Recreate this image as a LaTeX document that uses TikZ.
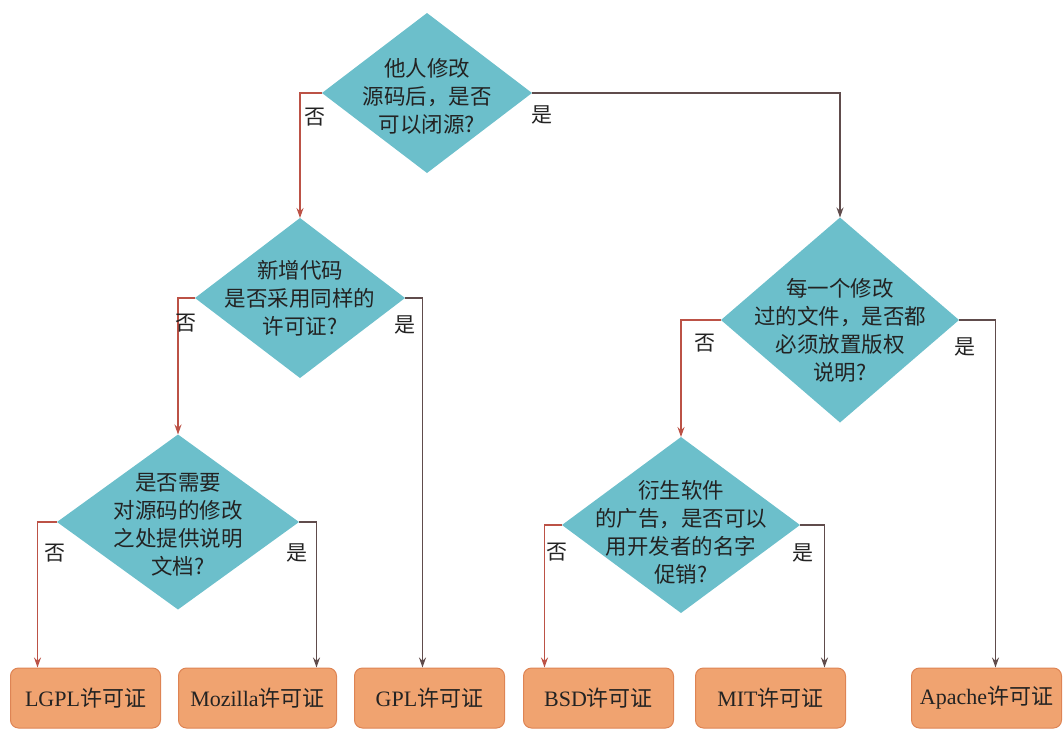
\documentclass[tikz,border=0pt]{standalone}
\usepackage{fontspec}
\setmainfont{Liberation Serif}
\newfontfamily\cjk{Noto Sans CJK SC}
\usepackage{xcolor}
\usetikzlibrary{shapes, arrows.meta, positioning}
\definecolor{qfill}{RGB}{108,191,203}
\definecolor{lfill}{RGB}{240,163,112}
\definecolor{ldraw}{RGB}{222,132,84}
\definecolor{noline}{RGB}{188,82,70}
\definecolor{yesline}{RGB}{96,76,76}
\definecolor{txt}{RGB}{35,35,35}

\begin{document}
\begin{tikzpicture}[x=1pt,y=-1pt,>={Stealth[length=10pt,width=7pt]},
        question/.style={diamond,fill=qfill,inner sep=0pt,outer sep=0pt},
        qtext/.style={align=center,text=txt,font=\cjk\fontsize{21.5}{28}\selectfont},
        license/.style={rectangle,rounded corners=8pt,fill=lfill,draw=ldraw,line width=1pt,
            minimum width=150pt,minimum height=60pt,text=txt,font=\fontsize{22}{24}\selectfont},
        answer/.style={text=txt,font=\cjk\fontsize{21}{24}\selectfont},
        nopath/.style={->,draw=noline,line width=1.2pt},
        yespath/.style={->,draw=yesline,line width=1.2pt}]

    \useasboundingbox (0,0) rectangle (1063,729);

    \node[question,minimum width=210pt,minimum height=160pt,
        label={[qtext,yshift=-3pt]center:{他人修改\\源码后，是否\\可以闭源?}}] (q1) at (427,93) {};
    \node[question,minimum width=210pt,minimum height=160pt,
        label={[qtext]center:{新增代码\\是否采用同样的\\许可证?}}] (q3) at (300,298) {};
    \node[question,minimum width=242pt,minimum height=175pt,
        label={[qtext,yshift=-3pt]center:{是否需要\\对源码的修改\\之处提供说明\\文档?}}] (q5) at (178,522) {};
    \node[question,minimum width=238pt,minimum height=205pt,
        label={[qtext,yshift=-10pt]center:{每一个修改\\过的文件，是否都\\必须放置版权\\说明?}}] (q2) at (840,320) {};
    \node[question,minimum width=238pt,minimum height=176pt,
        label={[qtext,yshift=-7pt]center:{衍生软件\\的广告，是否可以\\用开发者的名字\\促销?}}] (q4) at (681,525) {};

    \node[license] (lgpl) at (85.5,698) {LGPL{\cjk 许可证}};
    \node[license,minimum width=158pt] (mozilla) [right=17pt of lgpl] {Mozilla{\cjk 许可证}};
    \node[license] (gpl) [right=17pt of mozilla] {GPL{\cjk 许可证}};
    \node[license] (bsd) [right=18pt of gpl] {BSD{\cjk 许可证}};
    \node[license] (mit) [right=21pt of bsd] {MIT{\cjk 许可证}};
    \node[license] (apache) [right=65pt of mit] {Apache{\cjk 许可证}};

    \draw[nopath] (q1.west) -| (q3.north);
    \draw[yespath] (q1.east) -| (q2.north);
    \draw[nopath] (q3.west) -| (q5.north);
    \draw[yespath] (q3.east) -| ([xshift=-7pt]gpl.north);
    \draw[nopath] (q5.west) -| ([xshift=-48pt]lgpl.north);
    \draw[yespath] (q5.east) -| ([xshift=59pt]mozilla.north);
    \draw[nopath] (q2.west) -| (q4.north);
    \draw[yespath] (q2.east) -| ([xshift=9pt]apache.north);
    \draw[nopath] (q4.west) -| ([xshift=-54pt]bsd.north);
    \draw[yespath] (q4.east) -| ([xshift=54pt]mit.north);

    \foreach \t/\x/\y in {否/315/117, 是/542/115, 否/186/323, 是/405/325, 否/55/553,
            是/297/553, 否/705/343, 是/965/347, 否/557/552, 是/803/553}
        \node[answer] (a\x) at (\x,\y) {\t};
\end{tikzpicture}
\end{document}
